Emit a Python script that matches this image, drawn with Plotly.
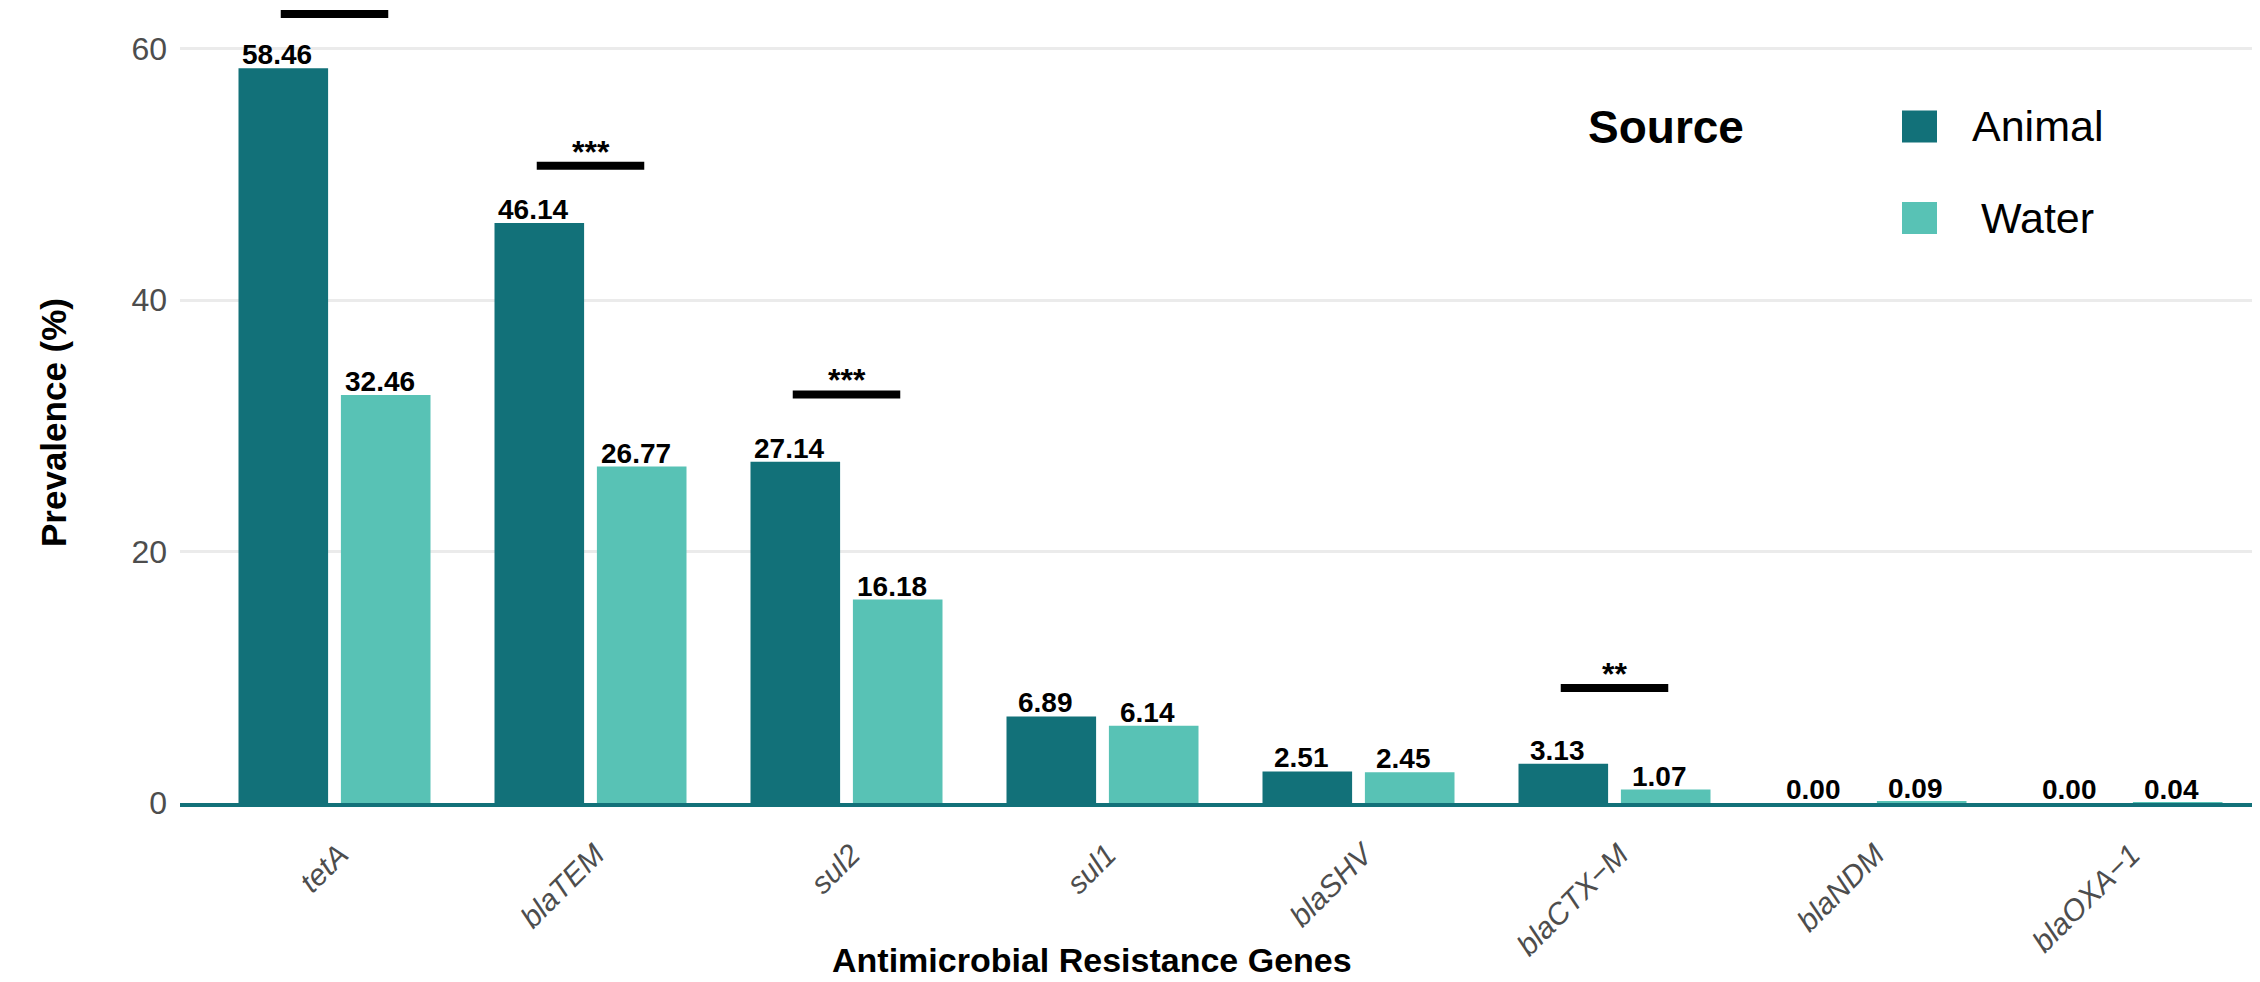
import plotly.graph_objects as go

# ---------------- data ----------------
genes = ["tetA", "blaTEM", "sul2", "sul1", "blaSHV", "blaCTX\u2212M", "blaNDM", "blaOXA\u22121"]
animal = [58.46, 46.14, 27.14, 6.89, 2.51, 3.13, 0.00, 0.00]
water = [32.46, 26.77, 16.18, 6.14, 2.45, 1.07, 0.09, 0.04]
sources = ["Animal", "Water"]
sig_genes = ["tetA", "blaTEM", "sul2", "blaCTX\u2212M"]
sig_labels = ["***", "***", "***", "**"]
sig_y = [62.77, 50.7, 32.5, 9.15]
y_ticks = [0, 20, 40, 60]

# ---------------- styling ----------------
OFF = 8                      # page body margin of the browser
W, H = 2260 - OFF, 982 - OFF
ML, MR, MT, MB = 172, 0, 0, 179
PW, PH = W - ML - MR, H - MT - MB
FONT = "Liberation Sans, Arial, Helvetica, sans-serif"
C_ANIMAL = "#127179"
C_WATER = "#58C2B5"
YMAX = PH / 12.57
XR = [-0.6035, -0.6035 + PW / 256.0]


def px_x(px):
    return (px - OFF - ML) / PW


def px_y(py):
    return (H - MB - (py - OFF)) / PH


fig = go.Figure()
fig.add_trace(go.Bar(name=sources[0], x=genes, y=animal, marker_color=C_ANIMAL,
                     marker_line_width=0, showlegend=False))
fig.add_trace(go.Bar(name=sources[1], x=genes, y=water, marker_color=C_WATER,
                     marker_line_width=0, showlegend=False))

annotations = []
shapes = []

# value labels
for i, g in enumerate(genes):
    for off, vals in ((-0.2, animal), (0.2, water)):
        annotations.append(dict(
            x=i + off, y=vals[i], xref="x", yref="y", text=f"{vals[i]:.2f}",
            showarrow=False, xanchor="center", yanchor="bottom", xshift=-6, yshift=-4,
            font=dict(family=FONT, size=28, color="#000000", weight="bold")))

# significance bars
for g, lab, yv in zip(sig_genes, sig_labels, sig_y):
    i = genes.index(g)
    shapes.append(dict(type="line", xref="x", yref="y", x0=i - 0.21, x1=i + 0.21,
                       y0=yv, y1=yv, line=dict(color="#000000", width=8)))
    if yv + 2.5 < YMAX:  # stars above the top edge are cropped away, as in the source image
        annotations.append(dict(
            x=i, y=yv, xref="x", yref="y", text=lab, showarrow=False,
            xanchor="center", yanchor="middle", yshift=14,
            font=dict(family=FONT, size=32, color="#000000", weight="bold")))

# axis titles
annotations.append(dict(
    x=px_x(1092), y=px_y(960), xref="paper", yref="paper",
    text="Antimicrobial Resistance Genes", showarrow=False,
    xanchor="center", yanchor="middle",
    font=dict(family=FONT, size=34, color="#000000", weight="bold")))
annotations.append(dict(
    x=px_x(53), y=px_y(423), xref="paper", yref="paper",
    text="Prevalence (%)", showarrow=False, textangle=-90,
    xanchor="center", yanchor="middle",
    font=dict(family=FONT, size=35, color="#000000", weight="bold")))

# legend (drawn manually to match large keys)
annotations.append(dict(
    x=px_x(1586), y=px_y(127), xref="paper", yref="paper", text="Source",
    showarrow=False, xanchor="left", yanchor="middle",
    font=dict(family=FONT, size=46, color="#000000", weight="bold")))
for name, col, yc in ((sources[0], C_ANIMAL, 126.5), (sources[1], C_WATER, 218)):
    shapes.append(dict(type="rect", xref="paper", yref="paper",
                       x0=px_x(1902), x1=px_x(1937), y0=px_y(yc + 16), y1=px_y(yc - 16),
                       fillcolor=col, line=dict(width=0)))
    annotations.append(dict(
        x=px_x(2037), y=px_y(yc), xref="paper", yref="paper", text=name,
        showarrow=False, xanchor="center", yanchor="middle",
        font=dict(family=FONT, size=43, color="#000000")))

fig.update_layout(
    width=W, height=H,
    margin=dict(l=ML, r=MR, t=MT, b=MB, pad=0, autoexpand=False),
    paper_bgcolor="white", plot_bgcolor="white",
    barmode="group", bargap=0.2, bargroupgap=0.125,
    annotations=annotations, shapes=shapes,
    showlegend=False,
    font=dict(family=FONT),
)
fig.update_xaxes(
    range=XR, showgrid=False, zeroline=False, automargin=False,
    showline=True, linecolor=C_ANIMAL, linewidth=4,
    ticks="", tickangle=-45, ticklabelstandoff=18, ticklabelshift=5,
    tickfont=dict(family=FONT, size=30, color="#4D4D4D", style="italic"),
)
fig.update_yaxes(
    range=[0, YMAX], tickvals=y_ticks, showgrid=True, gridcolor="#EBEBEB", gridwidth=3,
    zeroline=False, showline=False, ticks="", ticklabelstandoff=12, automargin=False,
    tickfont=dict(family=FONT, size=32, color="#4D4D4D"),
)

fig.write_html("out.html")
